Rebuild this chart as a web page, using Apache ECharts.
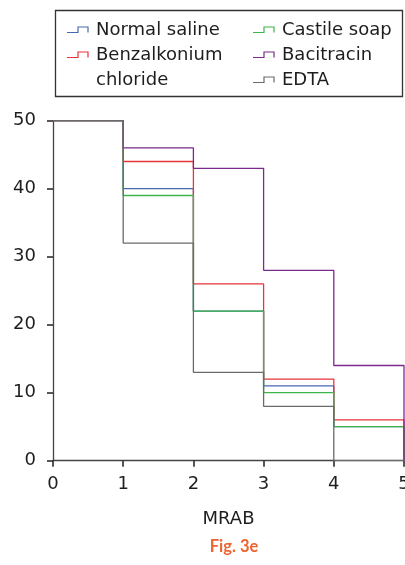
<!DOCTYPE html>
<html><head><meta charset="utf-8">
<script src="https://cdn.jsdelivr.net/npm/echarts@6/dist/echarts.min.js"></script>
<style>html,body{margin:0;padding:0;background:#fff}#c{width:405px;height:565px}</style>
</head><body><div id="c"></div>
<script>
const xValues = [0, 1, 2, 3, 4, 5];
const seriesNames = ['Normal saline', 'Benzalkonium chloride', 'Castile soap', 'Bacitracin', 'EDTA'];
const seriesColors = ['#4a68b0', '#e8343c', '#3cb64a', '#7a2a8a', '#6a6a6a'];
const normalSaline = [50, 40, 22, 11, 5, 0];
const benzalkonium = [50, 44, 26, 12, 6, 0];
const castileSoap = [50, 39, 22, 10, 5, 0];
const bacitracin = [50, 46, 43, 28, 14, 0];
const edta = [50, 32, 13, 8, 0, 0];
const yTicks = [0, 10, 20, 30, 40, 50];
const xTitle = 'MRAB';
const figLabel = 'Fig. 3e';

const allValues = [normalSaline, benzalkonium, castileSoap, bacitracin, edta];
const FONT = '"DejaVu Sans", sans-serif';

const series = seriesNames.map((n, i) => ({
  name: n, type: 'line', step: 'end', symbol: 'none',
  lineStyle: { color: seriesColors[i], width: 1.3 },
  itemStyle: { color: seriesColors[i] },
  data: xValues.map((x, j) => [x, allValues[i][j]])
}));

// legend as graphic (two columns)
const legendLayout = [
  { idx: 0, col: 0, row: 0, text: 'Normal saline' },
  { idx: 1, col: 0, row: 1, text: 'Benzalkonium\nchloride' },
  { idx: 2, col: 1, row: 0, text: 'Castile soap' },
  { idx: 3, col: 1, row: 1, text: 'Bacitracin' },
  { idx: 4, col: 1, row: 2, text: 'EDTA' }
];
const colX = [67, 253];
const rowY = [30, 55, 80];
const graphics = [{
  type: 'rect', shape: { x: 55.5, y: 10.5, width: 347, height: 86 },
  style: { fill: 'none', stroke: '#333', lineWidth: 1.3 }
}];
legendLayout.forEach(it => {
  const x0 = colX[it.col], yc = rowY[it.row];
  graphics.push({
    type: 'polyline',
    shape: { points: [[x0, yc + 2.5], [x0 + 11, yc + 2.5], [x0 + 11, yc - 3], [x0 + 21, yc - 3], [x0 + 21, yc + 2.5]] },
    style: { stroke: seriesColors[it.idx], lineWidth: 1.2, fill: null }
  });
  graphics.push({
    type: 'text', x: x0 + 29, y: yc - 12.5,
    style: { text: it.text, fill: '#1e1e1e', font: '18px ' + FONT, lineHeight: 25, verticalAlign: 'top' }
  });
});

const tickStyle = { show: true, inside: false, length: 6, lineStyle: { color: '#222', width: 1.5 } };

const chart = echarts.init(document.getElementById('c'), null, { renderer: 'canvas' });
chart.setOption({
  animation: false,
  backgroundColor: '#fff',
  title: {
    text: figLabel, left: 229, textAlign: 'center', top: 533,
    textStyle: { color: '#ee6330', fontSize: 16.5, fontWeight: 'bold', fontFamily: 'Lato, sans-serif' }
  },
  grid: { left: 53, right: 1, top: 120.7, bottom: 104.3, outerBoundsMode: 'none', containLabel: false },
  xAxis: {
    type: 'value', min: 0, max: 5, interval: 1,
    name: xTitle, nameLocation: 'middle', nameGap: 50,
    nameTextStyle: { color: '#1e1e1e', fontSize: 18, fontFamily: FONT },
    axisLine: { show: true, onZero: false, lineStyle: { color: '#444', width: 1.3 } },
    axisTick: tickStyle,
    axisLabel: { color: '#1e1e1e', fontSize: 18, fontFamily: FONT, margin: 15, hideOverlap: false },
    splitLine: { show: false }
  },
  yAxis: {
    type: 'value', min: 0, max: 50, interval: 10,
    axisLine: { show: true, onZero: false, lineStyle: { color: '#444', width: 1.3 } },
    axisTick: tickStyle,
    axisLabel: { color: '#1e1e1e', fontSize: 18, fontFamily: FONT, margin: 17,
      formatter: v => yTicks.includes(v) ? String(v) : '' },
    splitLine: { show: false }
  },
  graphic: graphics,
  series: series
});
</script></body></html>
